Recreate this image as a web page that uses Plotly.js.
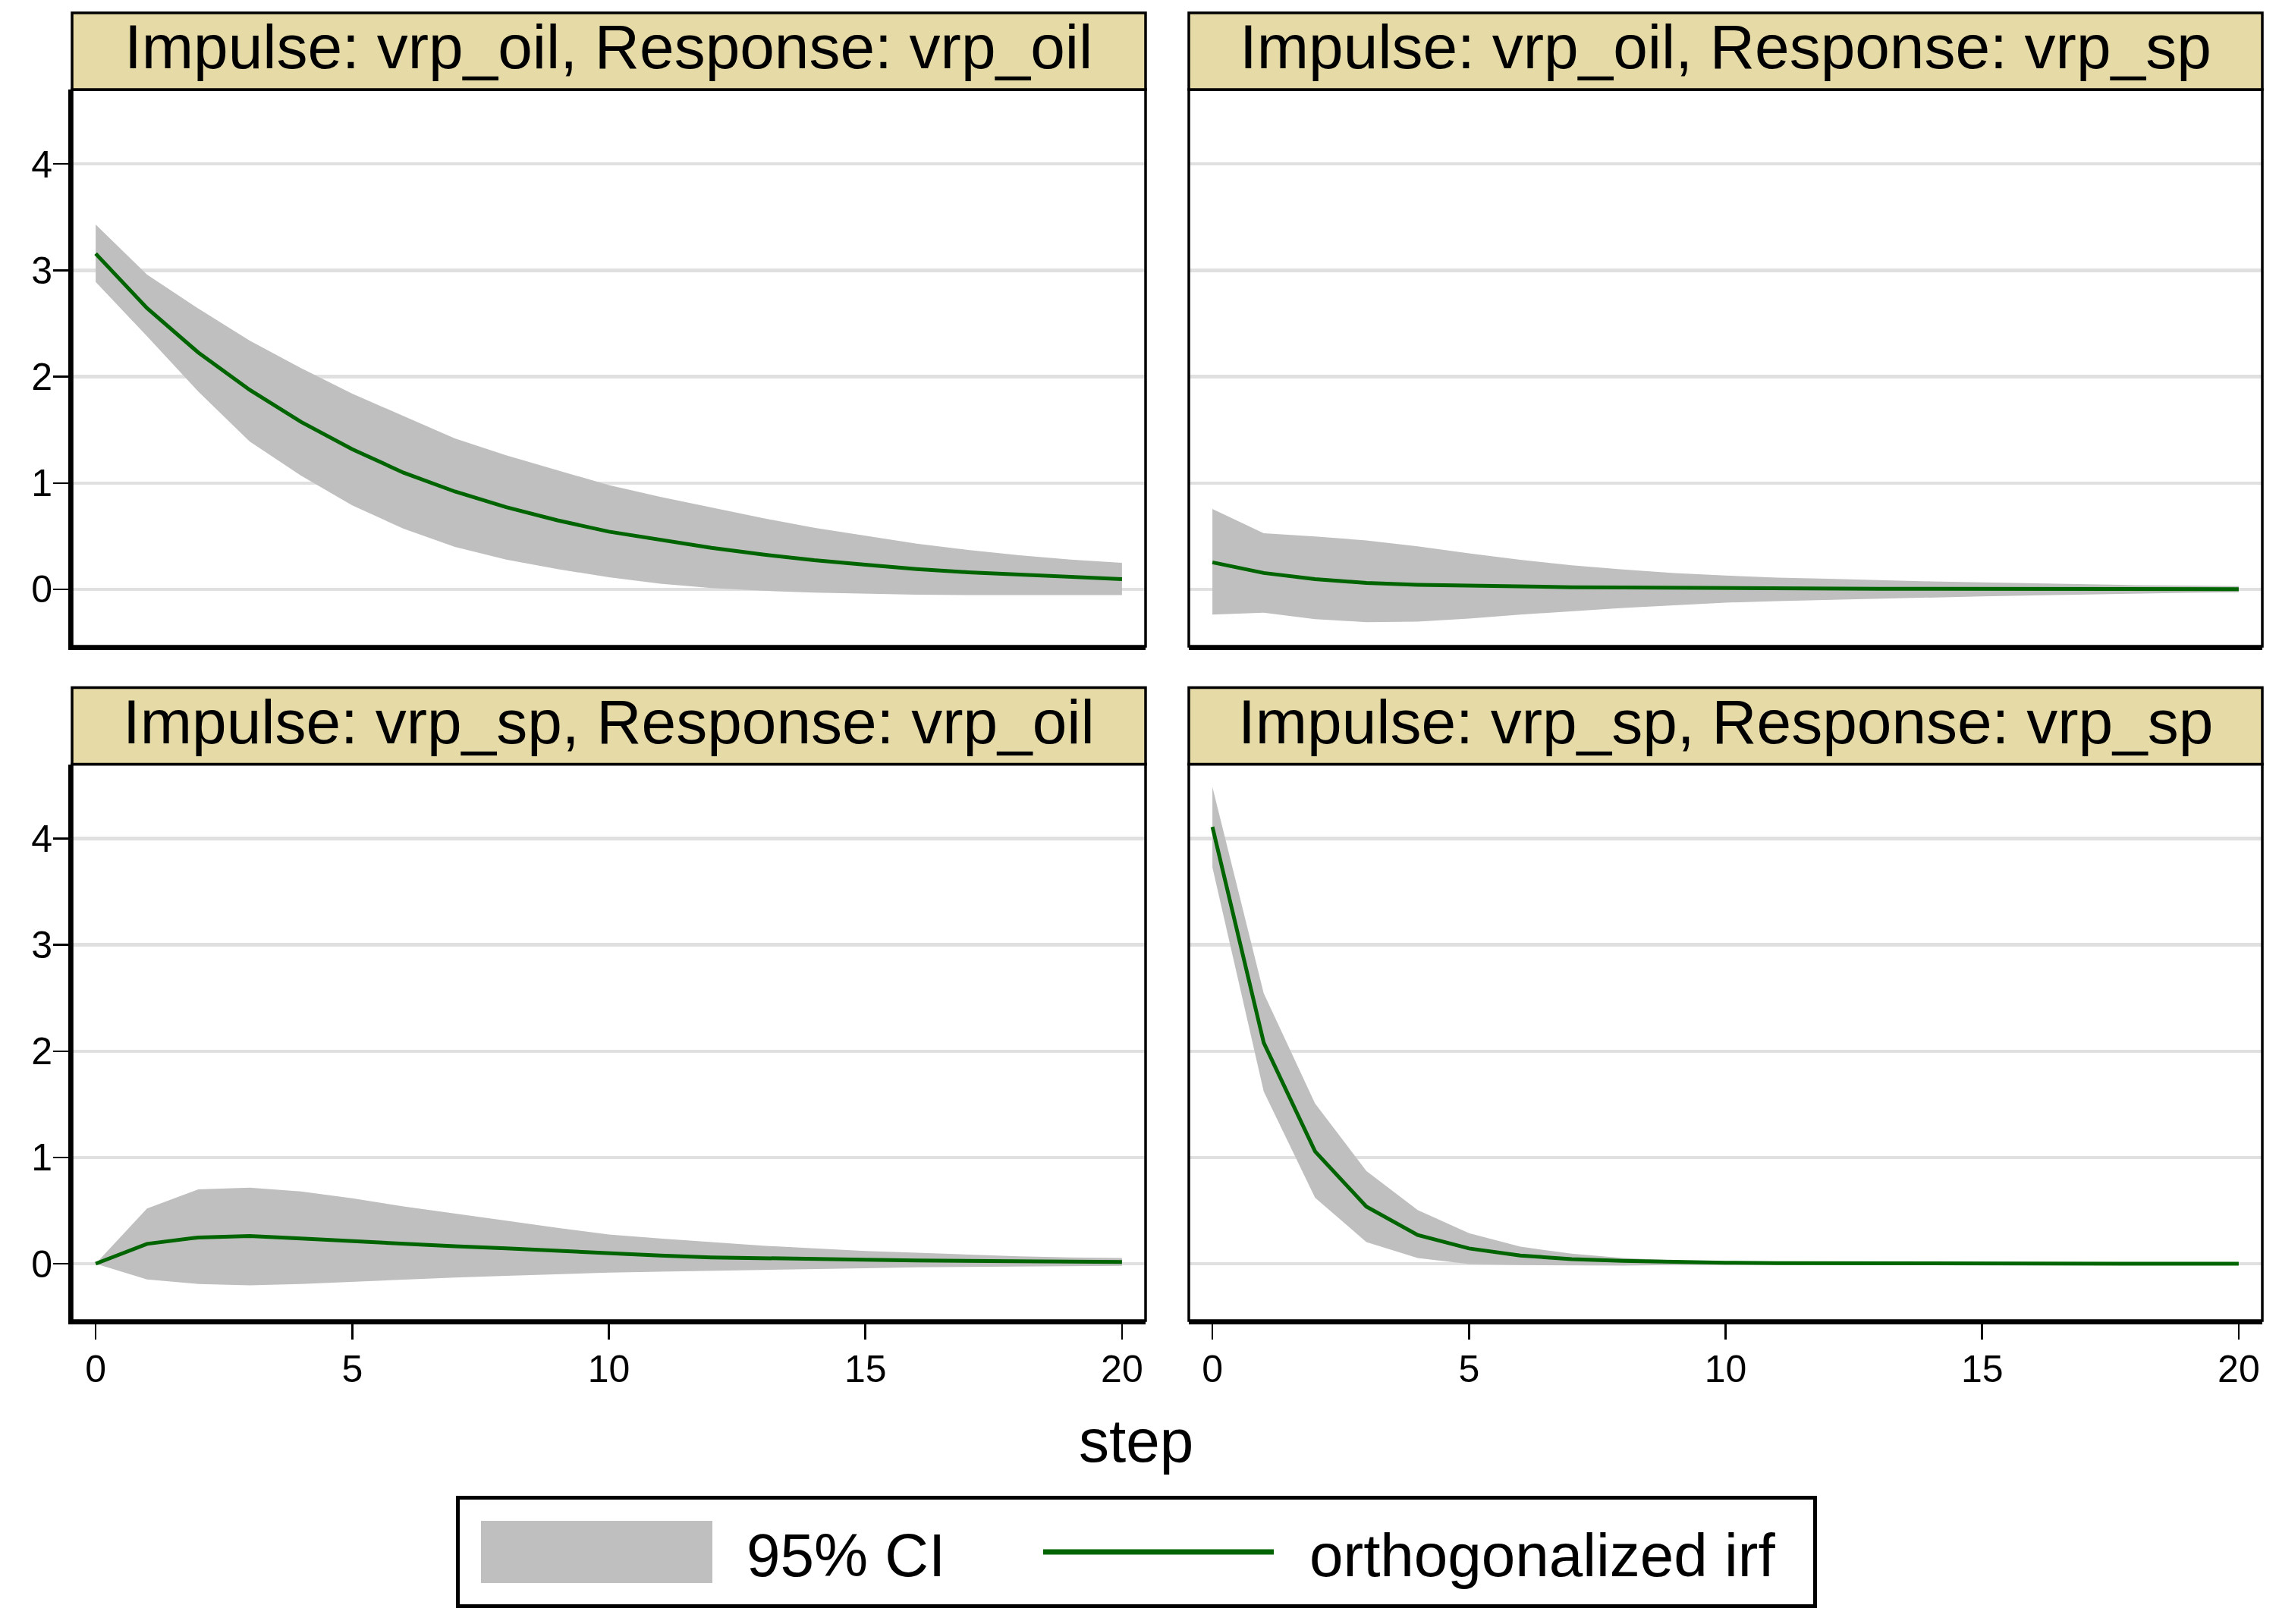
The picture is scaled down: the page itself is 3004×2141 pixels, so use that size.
<!DOCTYPE html>
<html>
<head>
<meta charset="utf-8">
<script src="https://cdn.plot.ly/plotly-3.0.1.min.js"></script>
<style>
html,body{margin:0;padding:0;background:#fff;}
#chart{width:3004px;height:2141px;}
</style>
</head>
<body>
<div id="chart"></div>
<script>
// ---------- data ----------
const steps = [0,1,2,3,4,5,6,7,8,9,10,11,12,13,14,15,16,17,18,19,20];

const panelTitles = [
  "Impulse: vrp_oil, Response: vrp_oil",
  "Impulse: vrp_oil, Response: vrp_sp",
  "Impulse: vrp_sp, Response: vrp_oil",
  "Impulse: vrp_sp, Response: vrp_sp"
];

// Impulse vrp_oil -> Response vrp_oil
const irfOilOil   = [3.157,2.645,2.227,1.876,1.575,1.318,1.097,0.920,0.773,0.649,0.543,0.465,0.391,0.328,0.274,0.231,0.191,0.161,0.137,0.117,0.097];
const lowerOilOil = [2.89,2.38,1.86,1.39,1.07,0.79,0.57,0.40,0.28,0.19,0.114,0.054,0.013,-0.013,-0.030,-0.040,-0.050,-0.053,-0.053,-0.053,-0.053];
const upperOilOil = [3.43,2.96,2.64,2.34,2.08,1.84,1.63,1.42,1.26,1.12,0.98,0.87,0.77,0.67,0.58,0.505,0.43,0.37,0.32,0.28,0.25];

// Impulse vrp_oil -> Response vrp_sp
const irfOilSp   = [0.254,0.154,0.097,0.060,0.043,0.033,0.027,0.020,0.017,0.013,0.010,0.008,0.007,0.006,0.005,0.004,0.003,0.003,0.002,0.002,0.002];
const lowerOilSp = [-0.237,-0.220,-0.280,-0.308,-0.304,-0.274,-0.237,-0.204,-0.174,-0.150,-0.125,-0.110,-0.098,-0.087,-0.077,-0.066,-0.057,-0.048,-0.040,-0.033,-0.027];
const upperOilSp = [0.756,0.528,0.498,0.460,0.405,0.338,0.278,0.227,0.187,0.154,0.130,0.110,0.100,0.085,0.075,0.065,0.055,0.050,0.040,0.035,0.030];

// Impulse vrp_sp -> Response vrp_oil
const irfSpOil   = [0,0.187,0.247,0.260,0.237,0.210,0.187,0.164,0.144,0.120,0.097,0.077,0.060,0.050,0.043,0.037,0.030,0.027,0.023,0.020,0.017];
const lowerSpOil = [0,-0.147,-0.190,-0.204,-0.190,-0.170,-0.147,-0.130,-0.114,-0.097,-0.084,-0.074,-0.067,-0.057,-0.050,-0.043,-0.033,-0.030,-0.027,-0.023,-0.020];
const upperSpOil = [0,0.52,0.70,0.716,0.68,0.615,0.54,0.47,0.405,0.338,0.275,0.237,0.204,0.170,0.144,0.120,0.104,0.087,0.070,0.060,0.054];

// Impulse vrp_sp -> Response vrp_sp
const irfSpSp   = [4.11,2.08,1.057,0.538,0.270,0.144,0.077,0.043,0.027,0.017,0.010,0.006,0.004,0.003,0.002,0.001,0.001,0.001,0.000,0.000,0.000];
const lowerSpSp = [3.73,1.62,0.622,0.204,0.054,-0.003,-0.013,-0.017,-0.017,-0.013,-0.010,-0.007,-0.005,-0.003,-0.002,-0.002,-0.001,-0.001,-0.001,-0.001,-0.001];
const upperSpSp = [4.485,2.545,1.508,0.873,0.505,0.288,0.160,0.094,0.054,0.033,0.020,0.012,0.008,0.005,0.003,0.002,0.002,0.001,0.001,0.001,0.001];

const xTicks = [0,5,10,15,20];
const yTicks = [0,1,2,3,4];
const legendLabels = ["95% CI", "orthogonalized irf"];
const xTitle = "step";

// ---------- styling ----------
const W = 3004, H = 2141;
const FONT = "Liberation Sans, Arial, Helvetica, sans-serif";
const bandColor = "#bfbfbf";
const lineColor = "#006400";
const gridColor = "#e0e0e0";
const stripColor = "#e6daa6";

const px = v => v / W;
const py = v => 1 - v / H;

const xDomL = [px(95), px(1510)];
const xDomR = [px(1567), px(2982)];
const yDomT = [py(852), py(118)];
const yDomB = [py(1741), py(1007.5)];
const stripH = 101; // pixels

const panels = [
  {irf: irfOilOil, lo: lowerOilOil, hi: upperOilOil, xd: xDomL, yd: yDomT},
  {irf: irfOilSp,  lo: lowerOilSp,  hi: upperOilSp,  xd: xDomR, yd: yDomT},
  {irf: irfSpOil,  lo: lowerSpOil,  hi: upperSpOil,  xd: xDomL, yd: yDomB},
  {irf: irfSpSp,   lo: lowerSpSp,   hi: upperSpSp,   xd: xDomR, yd: yDomB}
];

const traces = [];
panels.forEach((p, i) => {
  const xa = i === 0 ? "x" : "x" + (i + 1);
  const ya = i === 0 ? "y" : "y" + (i + 1);
  traces.push({x: steps, y: p.lo, xaxis: xa, yaxis: ya, type: "scatter", mode: "lines",
    line: {width: 0, color: bandColor}, showlegend: false, hoverinfo: "skip"});
  traces.push({x: steps, y: p.hi, xaxis: xa, yaxis: ya, type: "scatter", mode: "lines",
    fill: "tonexty", fillcolor: bandColor, line: {width: 0, color: bandColor},
    name: legendLabels[0], showlegend: false});
  traces.push({x: steps, y: p.irf, xaxis: xa, yaxis: ya, type: "scatter", mode: "lines",
    line: {width: 5, color: lineColor}, name: legendLabels[1], showlegend: false});
});

const layout = {
  width: W, height: H,
  margin: {l: 0, r: 0, t: 0, b: 0, pad: 0},
  paper_bgcolor: "#ffffff",
  plot_bgcolor: "#ffffff",
  font: {family: FONT, color: "#000", size: 50},
  showlegend: false,
  shapes: [],
  annotations: []
};

panels.forEach((p, i) => {
  const sfx = i === 0 ? "" : String(i + 1);
  const bottomRow = i >= 2;
  const leftCol = i % 2 === 0;
  layout["xaxis" + sfx] = {
    domain: p.xd, anchor: "y" + sfx, range: [-0.46, 20.46],
    tickvals: xTicks, ticktext: xTicks.map(String),
    showticklabels: bottomRow, ticks: bottomRow ? "outside" : "",
    ticklen: 20, tickwidth: 2.5, tickcolor: "#000",
    tickfont: {family: FONT, size: 50, color: "#000"},
    ticklabelstandoff: -4,
    showgrid: false, zeroline: false,
    showline: true, linewidth: 5, linecolor: "#000", mirror: false
  };
  layout["yaxis" + sfx] = {
    domain: p.yd, anchor: "x" + sfx, range: [-0.535, 4.70],
    tickvals: yTicks, ticktext: yTicks.map(String),
    showticklabels: leftCol, ticks: leftCol ? "outside" : "",
    ticklen: 20, tickwidth: 2.5, tickcolor: "#000",
    tickfont: {family: FONT, size: 50, color: "#000"},
    ticklabelstandoff: -9,
    showgrid: true, gridcolor: gridColor, gridwidth: 4.5,
    zeroline: false,
    showline: leftCol, linewidth: 5, linecolor: "#000", mirror: false
  };
  // plot box
  layout.shapes.push({type: "rect", xref: "paper", yref: "paper",
    x0: p.xd[0], x1: p.xd[1], y0: p.yd[0], y1: p.yd[1],
    line: {color: "#000", width: 3.5}, fillcolor: "rgba(0,0,0,0)", layer: "above"});
  // strip
  layout.shapes.push({type: "rect", xref: "paper", yref: "paper",
    x0: p.xd[0], x1: p.xd[1], y0: p.yd[1], y1: p.yd[1] + stripH / H,
    line: {color: "#000", width: 3.5}, fillcolor: stripColor, layer: "above"});
  const stripTopPx = (1 - p.yd[1]) * H - stripH;
  layout.annotations.push({xref: "paper", yref: "paper",
    x: (p.xd[0] + p.xd[1]) / 2, y: py(stripTopPx + 44.5),
    xanchor: "center", yanchor: "middle", showarrow: false,
    text: panelTitles[i], font: {family: FONT, size: 82, color: "#000"}});
});

// x title centered on page
layout.annotations.push({xref: "paper", yref: "paper", x: px(1497), y: py(1899),
  xanchor: "center", yanchor: "middle", showarrow: false,
  text: xTitle, font: {family: FONT, size: 80, color: "#000"}});

// legend (drawn as layout elements)
layout.shapes.push({type: "rect", xref: "paper", yref: "paper",
  x0: px(603.5), x1: px(2392.5), y0: py(2117.5), y1: py(1974.5),
  line: {color: "#000", width: 5}, fillcolor: "#fff", layer: "above"});
layout.shapes.push({type: "rect", xref: "paper", yref: "paper",
  x0: px(634), x1: px(939), y0: py(2087), y1: py(2005),
  line: {width: 0}, fillcolor: bandColor, layer: "above"});
layout.shapes.push({type: "line", xref: "paper", yref: "paper",
  x0: px(1375), x1: px(1679), y0: py(2046), y1: py(2046),
  line: {color: lineColor, width: 7}, layer: "above"});
layout.annotations.push({xref: "paper", yref: "paper", x: px(982), y: py(2050),
  xanchor: "left", yanchor: "middle", showarrow: false,
  text: legendLabels[0], font: {family: FONT, size: 80, color: "#000"}});
layout.annotations.push({xref: "paper", yref: "paper", x: px(1724), y: py(2050),
  xanchor: "left", yanchor: "middle", showarrow: false,
  text: legendLabels[1], font: {family: FONT, size: 80, color: "#000"}});

Plotly.newPlot("chart", traces, layout, {staticPlot: true, displayModeBar: false});
</script>
</body>
</html>
